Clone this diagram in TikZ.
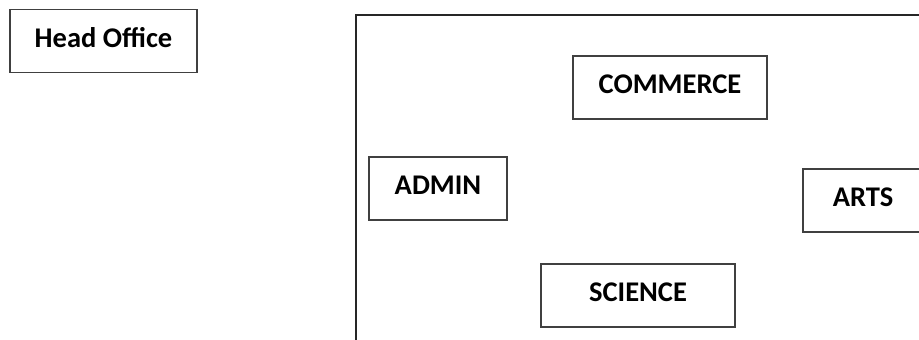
\documentclass[tikz,border=0pt]{standalone}
\usepackage{fontspec}
\setmainfont{Carlito}
\begin{document}
\begin{tikzpicture}[x=1pt, y=-1pt, block/.style = {draw=black!75, line width=1.2pt, inner sep=0pt, minimum height=63pt, text depth=7pt, font=\fontsize{28.5}{30}\selectfont\bfseries}]
                  \clip (0,0) rectangle (919,340);
                  \node[draw=black!85, line width=2pt, minimum width=600pt, minimum height=360pt, anchor=north west](campus) at (355,14) {};
                  \node[block, minimum width=187pt](head) at (103.5,41) {Head Office};
                  \node[block, minimum width=194pt](commerce) at (670,87.5) {COMMERCE};
                  \node[block, minimum width=138pt](admin) at (438,188.5) {ADMIN};
                  \node[block, minimum width=120pt](arts) at (863,200.5) {ARTS};
                  \node[block, minimum width=194pt](science) at (638,295.5) {SCIENCE};
          \end{tikzpicture}
\end{document}
